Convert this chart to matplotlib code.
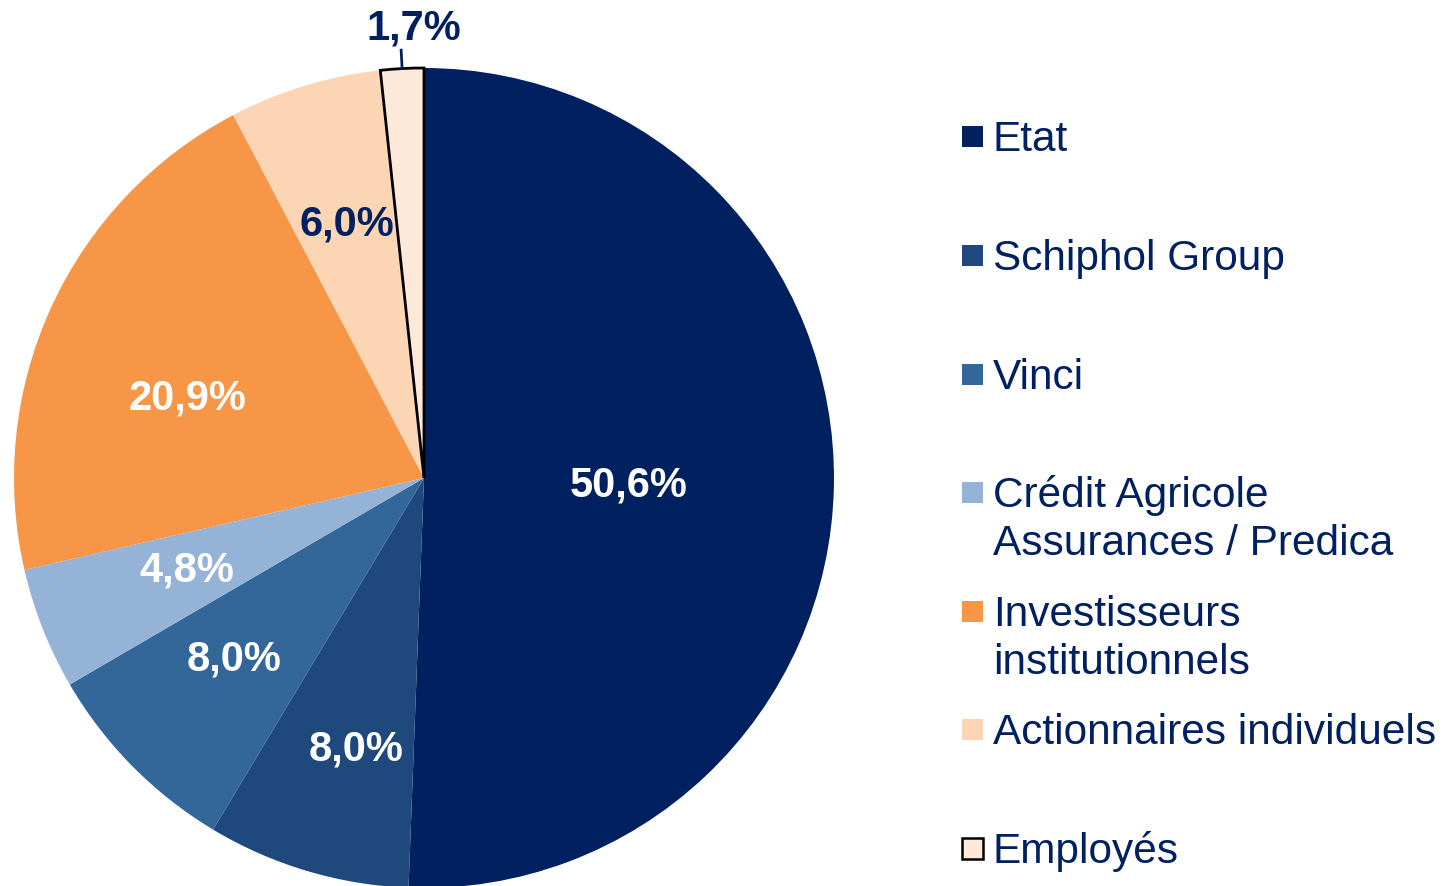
import matplotlib
matplotlib.use("Agg")
import matplotlib.pyplot as plt
from matplotlib.patches import Rectangle
import numpy as np

plt.rcParams['font.family'] = ['Liberation Sans', 'DejaVu Sans']

categories = ["Etat", "Schiphol Group", "Vinci",
              "Crédit Agricole\nAssurances / Predica",
              "Investisseurs\ninstitutionnels",
              "Actionnaires individuels", "Employés"]
shares = [50.6, 8.0, 8.0, 4.8, 20.9, 6.0, 1.7]
colors = ["#002060", "#1f497d", "#336699", "#95b3d7",
          "#f79646", "#fcd5b4", "#fde9d9"]
label_colors = ["white", "white", "white", "white", "white", "#002060", "#002060"]

navy = "#002060"
W, H = 1453, 887

fig = plt.figure(figsize=(W / 100, H / 100), dpi=100)
ax = fig.add_axes([14 / W, -2 / H, 820 / W, 820 / H])

wedges, _ = ax.pie(shares, colors=colors, startangle=90, counterclock=False,
                   radius=1.0, wedgeprops=dict(linewidth=0))
wedges[-1].set_edgecolor("black")
wedges[-1].set_linewidth(2)

ax.set_xlim(-1, 1)
ax.set_ylim(-1, 1)
ax.set_aspect("equal")
ax.axis("off")

# label placement: radius (fraction) and angular nudge (deg)
label_r = [0.5, 0.68, 0.64, 0.62, 0.61, 0.65, 1.10]
label_da = [-0.8, 2.5, -1.1, -0.5, 6.0, 0.0, -1.8]
for w, val, r, da, c in zip(wedges, shares, label_r, label_da, label_colors):
    mid = np.deg2rad((w.theta1 + w.theta2) / 2 + da)
    txt = f"{val:.1f}%".replace(".", ",")
    ax.text(r * np.cos(mid), r * np.sin(mid), txt, ha="center", va="center",
            color=c, fontsize=30, fontweight="bold", clip_on=False)

# leader line for the small slice
w = wedges[-1]
mid = np.deg2rad((w.theta1 + w.theta2) / 2)
ax.plot([np.cos(mid), 1.045 * np.cos(mid)], [np.sin(mid), 1.045 * np.sin(mid)],
        color=navy, lw=2, clip_on=False)

# legend on the right
leg_y = [137, 256, 375, 493, 612, 730, 849]
for name, col, y in zip(categories, colors, leg_y):
    last = col == colors[-1]
    fig.add_artist(Rectangle((962 / W, (H - y - 11) / H), 21 / W, 21 / H,
                             transform=fig.transFigure, facecolor=col,
                             edgecolor="black" if last else col,
                             linewidth=1.8 if last else 0))
    for i, line in enumerate(name.split("\n")):
        fig.text(993 / W, (H - y - 3 - 48 * i) / H, line, ha="left", va="center",
                 fontsize=30.5, color=navy)

fig.savefig("out.png", dpi=100)
